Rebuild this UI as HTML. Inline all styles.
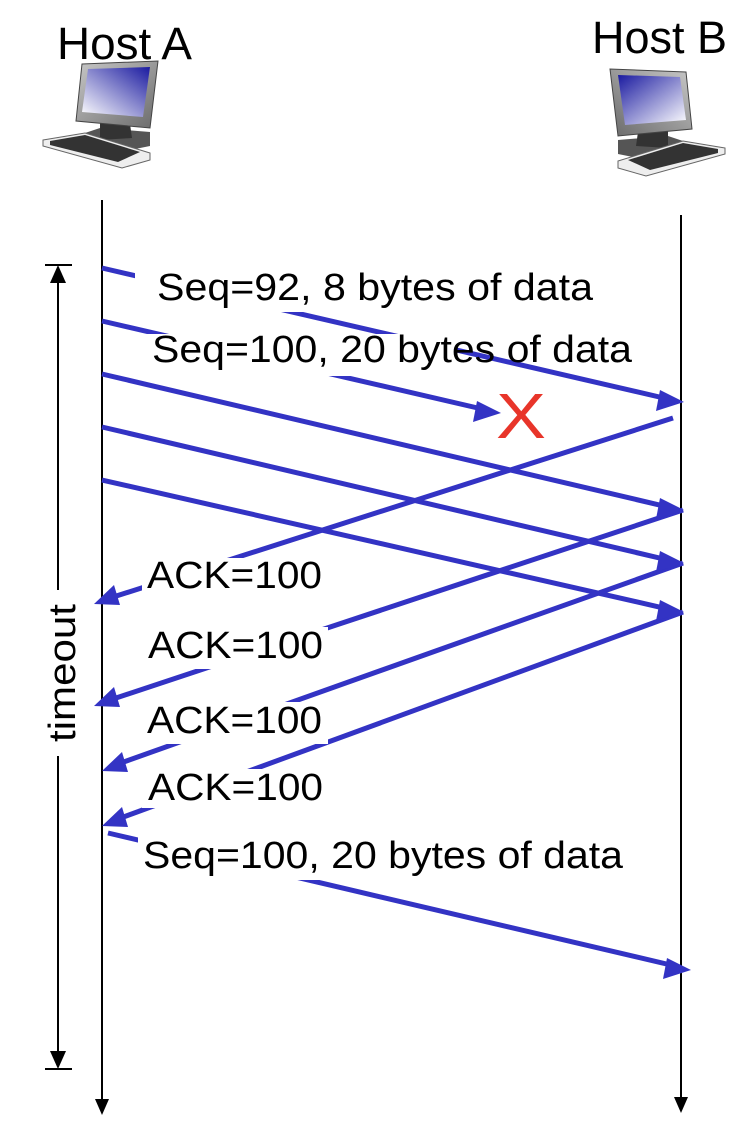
<!DOCTYPE html>
<html><head><meta charset="utf-8"><style>
html,body{margin:0;padding:0;background:#fff;}
svg{display:block;}
text{font-family:"Liberation Sans",sans-serif;fill:#000;}
</style></head><body>
<svg width="748" height="1126" viewBox="0 0 748 1126" xmlns="http://www.w3.org/2000/svg">
<defs>
<linearGradient id="scr" x1="1" y1="0" x2="0" y2="1">
<stop offset="0" stop-color="#1a1aa0"/><stop offset="1" stop-color="#ffffff"/>
</linearGradient>
<linearGradient id="frm" x1="0" y1="0" x2="1" y2="1">
<stop offset="0" stop-color="#c8c8c8"/><stop offset="1" stop-color="#6a6a6a"/>
</linearGradient>
<g id="pc">
<polygon points="70,138 100,128 150,132 150,146 120,152 72,146" fill="#555"/>
<polygon points="100,122 130,124 132,138 100,140" fill="#333"/>
<polygon points="82,64 158,61 150,128 76,121" fill="url(#frm)" stroke="#444" stroke-width="1"/>
<polygon points="88,69 150,67 143,117 82,112" fill="url(#scr)"/>
<polygon points="43,140 85,133 150,153 150,160 122,168 43,146" fill="#eee" stroke="#666" stroke-width="1"/>
<polygon points="50,141 85,135 140,152 118,162 50,145" fill="#333"/>
</g>
</defs>

<use href="#pc"/>
<use href="#pc" transform="translate(768,8) scale(-1,1)"/>

<text x="57" y="59" font-size="45" textLength="135" lengthAdjust="spacingAndGlyphs">Host A</text>
<text x="592" y="53" font-size="45" textLength="135" lengthAdjust="spacingAndGlyphs">Host B</text>

<line x1="102" y1="200" x2="102" y2="1100" stroke="#000" stroke-width="2"/>
<polygon points="95,1099 109,1099 102,1115" fill="#000"/>
<line x1="681" y1="215" x2="681" y2="1098" stroke="#000" stroke-width="2"/>
<polygon points="674,1097 688,1097 681,1113" fill="#000"/>

<line x1="58" y1="275" x2="58" y2="1058" stroke="#000" stroke-width="2"/>
<line x1="45" y1="265" x2="72" y2="265" stroke="#000" stroke-width="2"/>
<line x1="45" y1="1069" x2="72" y2="1069" stroke="#000" stroke-width="2"/>
<polygon points="50,283 66,283 58,265" fill="#000"/>
<polygon points="50,1051 66,1051 58,1069" fill="#000"/>
<rect x="40" y="590" width="40" height="166" fill="#fff"/>
<text transform="translate(75,742) rotate(-90)" font-size="38" textLength="138" lengthAdjust="spacingAndGlyphs">timeout</text>

<g stroke="#3333c4" stroke-width="5" fill="none">
<line x1="102" y1="268" x2="668" y2="399"/>
<line x1="102" y1="321" x2="482" y2="409"/>
<line x1="102" y1="374" x2="668" y2="507"/>
<line x1="102" y1="427" x2="668" y2="560"/>
<line x1="102" y1="480" x2="668" y2="609"/>
<line x1="673" y1="418" x2="110" y2="598"/>
<line x1="683" y1="510" x2="110" y2="700"/>
<line x1="683" y1="563" x2="118" y2="764"/>
<line x1="683" y1="612" x2="118" y2="819"/>
<line x1="108" y1="833" x2="675" y2="966"/>
</g>
<g fill="#3333c4">
<polygon points="684,402 660,390 656,411"/>
<polygon points="501,413 477,401 473,422"/>
<polygon points="684,510 660,498 656,519"/>
<polygon points="684,563 660,551 656,572"/>
<polygon points="684,612 660,600 656,621"/>
<polygon points="94,604 114,585 120,605"/>
<polygon points="94,706 114,687 120,707"/>
<polygon points="102,771 122,752 128,772"/>
<polygon points="102,826 122,807 128,827"/>
<polygon points="691,970 667,958 663,979"/>
</g>

<rect x="135" y="270" width="465" height="42" fill="#fff"/>
<text x="157" y="300" font-size="38" textLength="436" lengthAdjust="spacingAndGlyphs">Seq=92, 8 bytes of data</text>
<rect x="145" y="334" width="310" height="42" fill="#fff"/>
<text x="152" y="362" font-size="38" textLength="480" lengthAdjust="spacingAndGlyphs">Seq=100, 20 bytes of data</text>

<text x="496" y="438" font-size="64" style="fill:#e8352a" textLength="50" lengthAdjust="spacingAndGlyphs">X</text>

<rect x="142" y="558" width="186" height="42" fill="#fff"/>
<text x="147" y="588" font-size="38" textLength="175" lengthAdjust="spacingAndGlyphs">ACK=100</text>
<rect x="142" y="627" width="186" height="42" fill="#fff"/>
<text x="148" y="658" font-size="38" textLength="175" lengthAdjust="spacingAndGlyphs">ACK=100</text>
<rect x="142" y="702" width="186" height="42" fill="#fff"/>
<text x="147" y="733" font-size="38" textLength="175" lengthAdjust="spacingAndGlyphs">ACK=100</text>
<rect x="142" y="769" width="186" height="39" fill="#fff"/>
<text x="148" y="800" font-size="38" textLength="175" lengthAdjust="spacingAndGlyphs">ACK=100</text>
<rect x="138" y="837" width="490" height="43" fill="#fff"/>
<text x="143" y="868" font-size="38" textLength="480" lengthAdjust="spacingAndGlyphs">Seq=100, 20 bytes of data</text>
</svg>
</body></html>
